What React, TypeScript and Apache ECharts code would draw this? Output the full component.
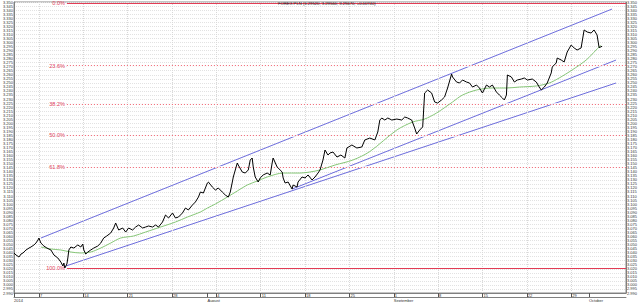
import React, { useEffect, useRef } from "react";
import * as echarts from "echarts";

// x = trading days counted from Monday 7 July 2014 (weekends removed)
const X_MIN = -2.81;
const X_MAX = 66.18;
const Y_MIN = 2.99;
const Y_MAX = 3.35;
const Y_STEP = 0.005;

const weekTicks = [0, 5, 10, 15, 20, 25, 30, 35, 40, 45, 50, 55, 60];
const weekLabels = ["7", "14", "21", "28", "4", "11", "18", "25", "1", "8", "15", "22", "29"];
const monthTicks = [X_MIN, 19, 40, 62];
const monthLabels = ["2014", "August", "September", "October"];

const titleText = "FOREX PLN (3.29520, 3.29560, 3.29470, +0.00740)";

const price: [number, number][] = [
  [-2.81, 3.0395], [-2.58, 3.037], [-2.25, 3.0345], [-2.02, 3.0382], [-1.8, 3.0395],
  [-1.46, 3.0432], [-1.12, 3.0456], [-0.9, 3.0469], [-0.56, 3.0494], [-0.34, 3.0518],
  [-0.11, 3.0555], [0, 3.058], [0.22, 3.0518], [0.56, 3.0481], [0.9, 3.0456],
  [1.35, 3.0432], [1.69, 3.037], [2.13, 3.0333], [2.47, 3.0283], [2.7, 3.0234],
  [2.81, 3.0271], [2.92, 3.0209], [3.15, 3.0259], [3.26, 3.0333], [3.37, 3.0432],
  [3.6, 3.0469], [3.93, 3.0456], [4.38, 3.0494], [4.72, 3.0469], [4.94, 3.0506],
  [5.06, 3.0432], [5.28, 3.0382], [5.51, 3.0407], [5.84, 3.0432], [6.18, 3.0456],
  [6.63, 3.0481], [6.97, 3.0518], [7.3, 3.058], [7.64, 3.0605], [8.09, 3.0642],
  [8.43, 3.0704], [8.65, 3.0766], [8.99, 3.0679], [9.44, 3.0704], [9.78, 3.0654],
  [10.11, 3.0704], [10.56, 3.0679], [10.9, 3.0716], [11.24, 3.0741], [11.69, 3.0704],
  [12.02, 3.0716], [12.36, 3.0729], [12.81, 3.0716], [13.15, 3.0741], [13.48, 3.0716],
  [13.93, 3.0778], [14.27, 3.0865], [14.61, 3.0828], [15.06, 3.089], [15.39, 3.0828],
  [15.73, 3.084], [16.18, 3.089], [16.52, 3.0951], [16.85, 3.0927], [17.3, 3.0988],
  [17.64, 3.1026], [17.98, 3.1087], [18.2, 3.1149], [18.54, 3.1137], [18.99, 3.1261],
  [19.1, 3.1273], [19.55, 3.1211], [19.89, 3.1174], [20.22, 3.1199], [20.67, 3.1149],
  [21.01, 3.1112], [21.35, 3.1087], [21.57, 3.1149], [21.8, 3.1273], [21.91, 3.1335],
  [22.36, 3.1508], [22.47, 3.1483], [22.92, 3.1397], [23.26, 3.1384], [23.6, 3.1422],
  [23.82, 3.1545], [24.04, 3.157], [24.16, 3.1459], [24.38, 3.1335], [24.72, 3.1273],
  [24.94, 3.1323], [25.28, 3.136], [25.73, 3.1384], [26.07, 3.136], [26.29, 3.1508],
  [26.4, 3.157], [26.85, 3.1459], [27.19, 3.1422], [27.42, 3.1397], [27.53, 3.1323],
  [27.75, 3.1261], [28.09, 3.1273], [28.54, 3.1186], [28.65, 3.1236], [29.1, 3.1211],
  [29.21, 3.1273], [29.66, 3.1335], [30.0, 3.1323], [30.34, 3.136], [30.79, 3.1298],
  [31.12, 3.1335], [31.46, 3.1384], [31.69, 3.1422], [32.02, 3.1545], [32.25, 3.1669],
  [32.58, 3.1607], [32.81, 3.1632], [33.15, 3.1644], [33.6, 3.1582], [34.04, 3.1607],
  [34.49, 3.157], [34.72, 3.1694], [35.28, 3.1731], [35.84, 3.1694], [36.4, 3.1706],
  [36.74, 3.1793], [37.3, 3.1817], [37.87, 3.1793], [38.2, 3.1892], [38.43, 3.204],
  [38.65, 3.2065], [38.99, 3.204], [39.33, 3.2065], [39.78, 3.204], [40.34, 3.2052],
  [40.9, 3.204], [41.24, 3.2077], [41.57, 3.2065], [42.02, 3.204], [42.36, 3.1941],
  [42.58, 3.1867], [42.92, 3.1916], [43.26, 3.1954], [43.48, 3.2374], [43.82, 3.2411],
  [44.27, 3.2374], [44.61, 3.2263], [44.94, 3.225], [45.39, 3.2288], [45.73, 3.2325],
  [46.07, 3.2436], [46.52, 3.2609], [46.63, 3.2572], [47.08, 3.251], [47.42, 3.2498],
  [47.75, 3.2535], [48.2, 3.251], [48.54, 3.2498], [48.88, 3.2448], [49.33, 3.2473],
  [49.66, 3.2436], [50.0, 3.2374], [50.45, 3.2473], [50.79, 3.2448], [51.12, 3.2473],
  [51.57, 3.2387], [51.91, 3.2349], [52.25, 3.2312], [52.47, 3.2288], [52.7, 3.2349],
  [52.81, 3.2597], [53.26, 3.2572], [53.6, 3.251], [53.93, 3.2535], [54.38, 3.2547],
  [54.72, 3.256], [55.06, 3.2535], [55.62, 3.2547], [56.07, 3.251], [56.4, 3.2448],
  [56.63, 3.2411], [56.97, 3.2448], [57.3, 3.2498], [57.75, 3.2622], [57.87, 3.2696],
  [58.31, 3.2745], [58.43, 3.2807], [58.88, 3.2782], [59.21, 3.2758], [59.55, 3.2881],
  [60.0, 3.2968], [60.34, 3.2931], [60.67, 3.2906], [61.12, 3.2931], [61.46, 3.3154],
  [61.8, 3.3129], [62.25, 3.3116], [62.58, 3.3154], [62.92, 3.3092], [63.15, 3.2935],
  [63.48, 3.2952],
];

const movingAverage: [number, number][] = [
  [0.22, 3.0469], [1.35, 3.0444], [2.47, 3.0432], [3.6, 3.0407], [4.72, 3.0395],
  [5.84, 3.0407], [6.97, 3.0456], [8.09, 3.0518], [9.21, 3.058], [10.67, 3.0605],
  [12.02, 3.0654], [13.71, 3.0716], [15.39, 3.0778], [16.74, 3.084], [18.2, 3.0902],
  [18.99, 3.0951], [19.89, 3.1001], [21.24, 3.1087], [22.36, 3.1162], [23.48, 3.1236],
  [24.61, 3.1285], [25.73, 3.1335], [27.53, 3.1384], [29.44, 3.1384], [30.56, 3.1397],
  [31.69, 3.1422], [33.37, 3.1483], [35.39, 3.1545], [37.3, 3.165], [40.34, 3.1916],
  [42.13, 3.2015], [43.48, 3.2052], [44.83, 3.2127], [46.63, 3.2263], [47.75, 3.2349],
  [49.33, 3.2411], [51.12, 3.2436], [52.7, 3.2436], [54.16, 3.2448], [56.07, 3.2461],
  [57.53, 3.2498], [58.65, 3.256], [60.11, 3.2659], [61.69, 3.2782], [62.81, 3.2906],
  [63.37, 3.2968],
];

const channelUpper: [number, number][] = [[0.22, 3.058], [64.61, 3.3413]];
const channelMiddle: [number, number][] = [[28.54, 3.1186], [65.06, 3.2782]];
const channelLower: [number, number][] = [[3.03, 3.0234], [65.06, 3.2498]];

const fibHigh = 3.3488;
const fibLow = 3.0209;
const fibStart = 3.15;
const fibLevels = [0, 23.6, 38.2, 50, 61.8, 100];

const FONT = "Liberation Sans";
const BLUE = "#6c6cdc";
const RED = "#e0405a";

export default function App() {
  const ref = useRef<HTMLDivElement>(null);
  useEffect(() => {
    if (!ref.current) return;
    const chart = echarts.init(ref.current, undefined, { renderer: "svg" });

    const fibValue = (lvl: number) => fibHigh - (lvl / 100) * (fibHigh - fibLow);

    // white backing under the dotted levels so grid dots don't show through
    const fibBacking = {
      type: "line",
      data: [[X_MIN, Y_MIN]],
      color: "#ffffff",
      showSymbol: false,
      silent: true,
      lineStyle: { opacity: 0 },
      z: 2,
      markLine: {
        silent: true,
        symbol: ["none", "none"],
        label: { show: false },
        lineStyle: { color: "#ffffff", width: 1.6, type: "solid", opacity: 1 },
        data: fibLevels
          .filter((l) => l !== 0 && l !== 100)
          .map((l) => [{ coord: [fibStart, fibValue(l)] }, { coord: [X_MAX, fibValue(l)] }]),
      },
    };

    const fibSeries = fibLevels.map((lvl) => {
      const v = fibValue(lvl);
      const solid = lvl === 0 || lvl === 100;
      const col = solid ? "#e23c55" : "#f0606f";
      return {
        type: "line",
        color: col,
        data: [[X_MIN, Y_MIN]],
        showSymbol: false,
        silent: true,
        lineStyle: { color: col, opacity: 0 },
        z: 3,
        markLine: {
          silent: true,
          symbol: ["none", "none"],
          lineStyle: {
            color: col,
            width: 1,
            type: solid ? "solid" : [1, 2],
            opacity: 1,
          },
          label: {
            show: true,
            position: "start",
            formatter: lvl.toFixed(1) + "%",
            color: RED,
            fontSize: 5.5,
            fontFamily: FONT,
            distance: 2,
          },
          data: [[{ coord: [fibStart, v] }, { coord: [X_MAX, v] }]],
        },
      };
    });

    const channel = (data: [number, number][]) => ({
      type: "line",
      data,
      color: BLUE,
      showSymbol: false,
      silent: true,
      lineStyle: { color: BLUE, width: 1 },
      z: 4,
    });

    const yAxisBase = {
      type: "value",
      min: Y_MIN,
      max: Y_MAX,
      interval: Y_STEP,
      axisLine: { show: true, onZero: false, lineStyle: { color: "#808080" } },
      axisTick: { show: false },
      axisLabel: {
        interval: 0,
        fontSize: 4,
        margin: 1,
        color: "#333",
        formatter: (v: number) => v.toFixed(3),
      },
    };

    chart.setOption({
      animation: false,
      backgroundColor: "#ffffff",
      textStyle: { fontFamily: FONT },
      grid: {
        left: 13,
        right: 13,
        top: 2,
        bottom: 9,
        show: true,
        borderColor: "#8a8a8a",
        borderWidth: 1,
        containLabel: false,
      },
      graphic: [
        {
          type: "text",
          left: 278,
          top: 1,
          z: 100,
          style: { text: titleText, fill: "#222", fontSize: 4.2, fontFamily: FONT },
        },
      ],
      xAxis: [
        {
          type: "value",
          min: X_MIN,
          max: X_MAX,
          position: "bottom",
          axisLine: { show: true, onZero: false, lineStyle: { color: "#808080", width: 1 } },
          axisTick: { show: true, customValues: weekTicks, length: 4, lineStyle: { color: "#555" } },
          axisLabel: {
            customValues: weekTicks,
            formatter: (v: number) => weekLabels[weekTicks.indexOf(v)] ?? "",
            fontSize: 4,
            margin: 0,
            align: "left",
            verticalAlign: "top",
            padding: [0, 0, 0, 1],
            color: "#333",
          },
          splitLine: { show: false },
        },
        {
          type: "value",
          min: X_MIN,
          max: X_MAX,
          position: "bottom",
          offset: 4,
          axisLine: { show: true, onZero: false, lineStyle: { color: "#808080", width: 1 } },
          axisTick: { show: true, customValues: monthTicks, inside: true, length: 4, lineStyle: { color: "#555" } },
          axisLabel: {
            customValues: monthTicks,
            formatter: (v: number) => monthLabels[monthTicks.indexOf(v)] ?? "",
            fontSize: 4,
            margin: 1,
            align: "left",
            verticalAlign: "top",
            color: "#333",
          },
          splitLine: { show: false },
        },
      ],
      yAxis: [
        {
          ...yAxisBase,
          position: "left",
          splitLine: { show: true, lineStyle: { color: "#e2e2e2", type: [1, 1], width: 1 } },
        },
        {
          ...yAxisBase,
          position: "right",
          splitLine: { show: false },
        },
      ],
      series: [
        {
          type: "line",
          data: [[X_MIN, Y_MIN]],
          color: "#d8d8d8",
          showSymbol: false,
          silent: true,
          lineStyle: { opacity: 0 },
          z: 1,
          markLine: {
            silent: true,
            symbol: ["none", "none"],
            label: { show: false },
            lineStyle: { color: "#d8d8d8", type: [1, 1], width: 1 },
            data: weekTicks.map((w) => ({ xAxis: w })),
          },
        },
        fibBacking,
        ...fibSeries,
        channel(channelUpper),
        channel(channelMiddle),
        channel(channelLower),
        {
          type: "line",
          data: movingAverage,
          color: "#78c068",
          showSymbol: false,
          silent: true,
          smooth: 0.3,
          lineStyle: { color: "#78c068", width: 0.9 },
          z: 5,
        },
        {
          type: "line",
          data: price,
          color: "#000000",
          showSymbol: false,
          silent: true,
          lineStyle: { color: "#000000", width: 1 },
          z: 6,
        },
      ],
    });
    return () => chart.dispose();
  }, []);

  return (
    <div
      ref={ref}
      style={{ position: "fixed", left: 0, top: 0, width: 640, height: 302, background: "#fff" }}
    />
  );
}
